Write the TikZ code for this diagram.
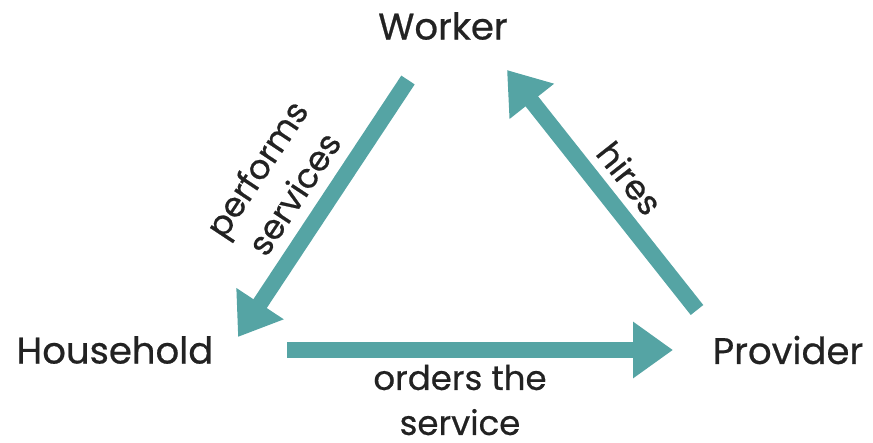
\documentclass[tikz,border=0pt]{standalone}
\usepackage{fontspec}
\setmainfont{Poppins}[UprightFeatures={FakeBold=0.6}]
\usetikzlibrary{arrows.meta}
\definecolor{tealarr}{HTML}{55A4A4}
\definecolor{inkgray}{HTML}{222222}

\begin{document}
\begin{tikzpicture}[x=1pt, y=-1pt]
    \tikzstyle{marrs}=[line width=16pt, tealarr, -{Triangle[length=40pt,width=54pt]}]
    \tikzstyle{pnode}=[inkgray, font=\fontsize{37}{44}\selectfont, inner sep=0pt]
    \tikzstyle{lnode}=[inkgray, font=\fontsize{34}{45}\selectfont, align=center, inner sep=0pt]

    \useasboundingbox (0,0) rectangle (873,443);

    \node[pnode] (w) at (443,26) {Worker};
    \node[pnode] (h) at (115,350) {Household};
    \node[pnode] (p) at (788,350) {Provider};

    % arrow ends
    \coordinate (w1) at (408,80);
    \coordinate (h1) at (238,337);
    \coordinate (p2) at (697,310);
    \coordinate (w2) at (507,70);
    \coordinate (h3) at (287,350);
    \coordinate (p3) at (673,350);

    \draw[marrs] (w1) -- (h1);
    \draw[marrs] (p2) -- (w2);
    \draw[marrs] (h3) -- (p3);

    \node[lnode, rotate=56.5] (ps) at (275,181) {performs\\services};
    \node[lnode, rotate=-51.6] (hi) at (630,178) {hires};
    \node[lnode] (os) at (460,400) {orders the\\service};

\end{tikzpicture}
\end{document}
